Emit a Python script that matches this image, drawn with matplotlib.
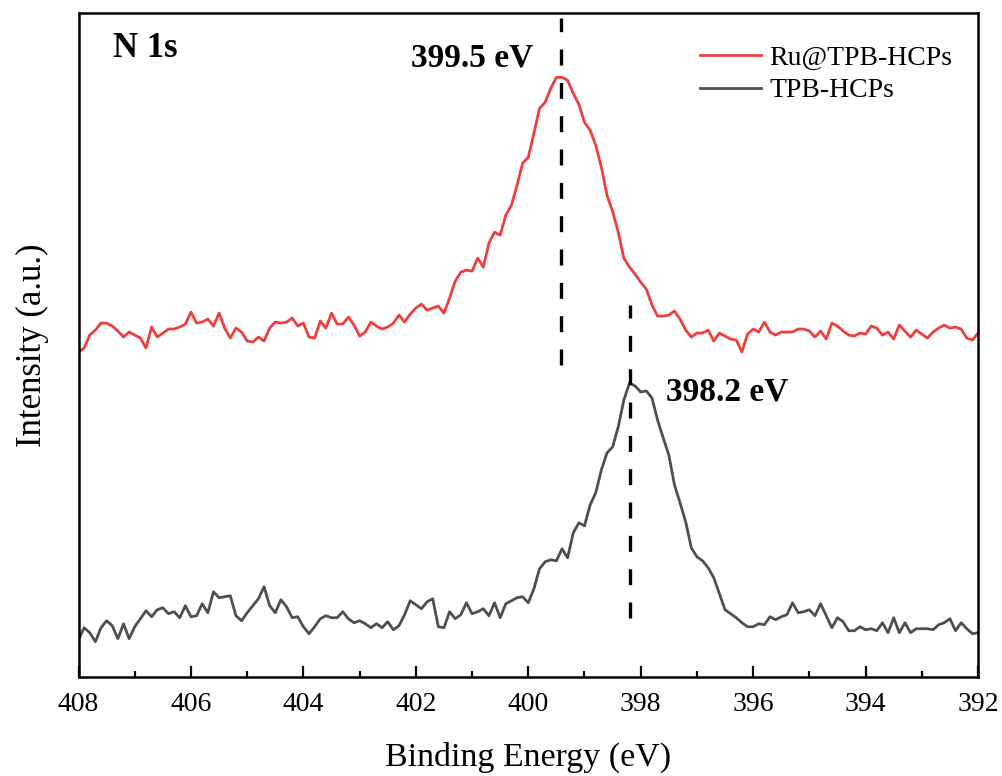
import numpy as np
import matplotlib
matplotlib.use("Agg")
import matplotlib.pyplot as plt

plt.rcParams['font.family'] = ['Liberation Serif', 'DejaVu Serif']
plt.rcParams['lines.scale_dashes'] = False

# Binding energy grid: 408 -> 392 eV, 0.1 eV step
energy = np.round(np.linspace(408, 392, 161), 2)

ru_tpb = [325, 329, 342, 347, 354, 354, 351, 346, 340, 345,
          342, 339, 329, 350, 340, 344, 348, 348, 350, 353,
          365, 354, 355, 358, 351, 364, 349, 339, 349, 345,
          336, 335, 340, 336, 349, 355, 354, 355, 359, 351,
          354, 340, 339, 356, 349, 364, 353, 353, 360, 352,
          341, 345, 355, 351, 348, 350, 354, 362, 355, 363,
          369, 373, 367, 369, 371, 364, 379, 396, 405, 407,
          406, 419, 410, 434, 445, 442, 462, 472, 492, 514,
          520, 544, 569, 575, 589, 600, 600, 597, 584, 573,
          555, 547, 532, 510, 482, 466, 445, 419, 410, 403,
          395, 388, 372, 361, 361, 362, 366, 358, 347, 340,
          344, 344, 347, 336, 344, 341, 338, 337, 325, 343,
          348, 345, 355, 345, 342, 345, 345, 345, 348, 348,
          346, 340, 346, 338, 354, 351, 346, 342, 341, 344,
          343, 351, 349, 342, 345, 338, 352, 346, 340, 347,
          343, 339, 345, 349, 352, 349, 350, 348, 339, 337,
          344]

tpb = [37, 49, 44, 35, 49, 56, 51, 38, 53, 38,
       50, 58, 66, 60, 67, 69, 63, 65, 59, 71,
       60, 61, 73, 64, 85, 79, 80, 81, 61, 56,
       64, 71, 78, 90, 71, 64, 77, 70, 59, 60,
       50, 43, 50, 58, 61, 59, 59, 65, 58, 54,
       56, 53, 49, 53, 49, 55, 47, 51, 62, 76,
       72, 68, 75, 78, 50, 49, 65, 58, 62, 74,
       63, 65, 68, 61, 74, 59, 73, 76, 79, 80,
       74, 88, 108, 115, 117, 116, 128, 119, 144, 154,
       151, 172, 184, 207, 224, 230, 250, 277, 294, 291,
       285, 286, 279, 257, 239, 222, 192, 174, 155, 129,
       120, 116, 109, 99, 83, 67, 63, 59, 54, 50,
       50, 53, 52, 60, 57, 60, 62, 74, 64, 65,
       67, 61, 73, 61, 49, 59, 55, 46, 46, 50,
       47, 48, 46, 54, 44, 59, 44, 54, 44, 48,
       48, 48, 47, 52, 54, 58, 46, 54, 48, 43,
       44]

series_labels = ['Ru@TPB-HCPs', 'TPB-HCPs']
peak_positions = [399.42, 398.19]
peak_labels = ['399.5 eV', '398.2 eV']
peak_spans = [(312, 659), (59, 372)]

red = '#EE3E3E'
gray = '#4F4F4F'

fig = plt.figure(figsize=(10.03, 7.76), dpi=100)
ax = fig.add_axes([0.0783, 0.128, 0.8968, 0.8547])

ax.plot(energy, ru_tpb, color=red, lw=2.0, label=series_labels[0])
ax.plot(energy, tpb, color=gray, lw=2.0, label=series_labels[1])

for xp, (y0, y1) in zip(peak_positions, peak_spans):
    ax.plot([xp, xp], [y0, y1], color='black', lw=2.4, dashes=(11.5, 12.5))

ax.text(402.08, 619, peak_labels[0], fontsize=24, fontweight='bold', ha='left', va='center')
ax.text(397.55, 285, peak_labels[1], fontsize=24, fontweight='bold', ha='left', va='center')
ax.text(407.385, 629, 'N 1s', fontsize=25, fontweight='bold', ha='left', va='center')

ax.set_xlim(408, 392)
ax.set_ylim(0, 664)
ax.set_xticks(np.arange(408, 391, -2))
ax.set_xticks(np.arange(407, 392, -2), minor=True)
ax.set_yticks([])
ax.tick_params(axis='x', which='major', direction='in', length=8, width=1.6, labelsize=20, pad=11)
ax.tick_params(axis='x', which='minor', direction='in', length=4, width=1.6)
for s in ax.spines.values():
    s.set_linewidth(1.8)

ax.set_xlabel('Binding Energy (eV)', fontsize=24.5, labelpad=18)
ax.set_ylabel('Intensity (a.u.)', fontsize=25, labelpad=21.5)

leg = ax.legend(loc='center left', bbox_to_anchor=(700 / 1003, 1 - 74.5 / 776),
                bbox_transform=fig.transFigure, frameon=False, fontsize=20,
                handlelength=2.2, handletextpad=0.3, labelspacing=0.25,
                borderpad=0, borderaxespad=0)

fig.savefig('out.png', dpi=100)
